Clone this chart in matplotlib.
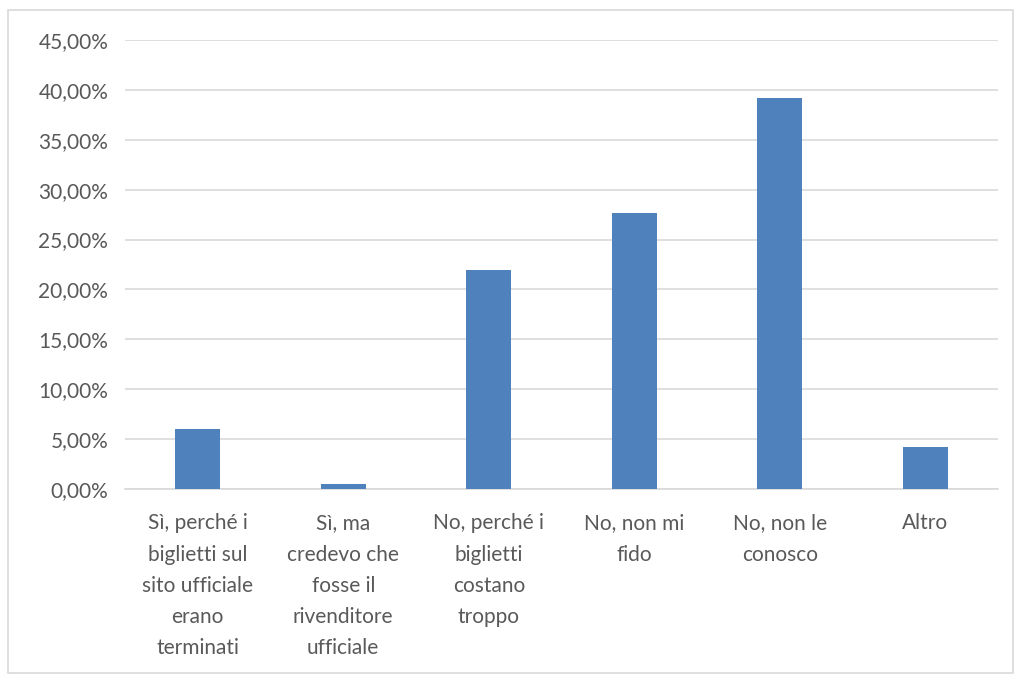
import matplotlib
matplotlib.use("Agg")
import matplotlib.pyplot as plt
from matplotlib.patches import Rectangle
from matplotlib.ticker import FuncFormatter

categories = [
    "Sì, perché i\nbiglietti sul\nsito ufficiale\nerano\nterminati",
    "Sì, ma\ncredevo che\nfosse il\nrivenditore\nufficiale",
    "No, perché i\nbiglietti\ncostano\ntroppo",
    "No, non mi\nfido",
    "No, non le\nconosco",
    "Altro",
]
shares = [6.0, 0.55, 21.9, 27.65, 39.2, 4.25]
y_ticks = [0, 5, 10, 15, 20, 25, 30, 35, 40, 45]

plt.rcParams["font.family"] = ["Lato", "DejaVu Sans"]
text_color = "#595959"
grid_color = "#d9d9d9"
bar_color = "#4f81bd"

fig = plt.figure(figsize=(10.15, 6.74), dpi=100)
ax = fig.add_axes([125 / 1015, 1 - 489 / 674, (998 - 125) / 1015, (489 - 40) / 674])

x = list(range(len(categories)))
ax.bar(x, shares, width=0.31, color=bar_color, zorder=3)

ax.set_xlim(-0.5, len(categories) - 0.5)
ax.set_ylim(0, 45)
ax.set_yticks(y_ticks)
ax.yaxis.set_major_formatter(FuncFormatter(lambda v, _: f"{v:.2f}%".replace(".", ",")))
ax.grid(axis="y", color=grid_color, linewidth=1.2, zorder=0)
ax.set_xticks(x)
ax.set_xticklabels(categories, linespacing=1.7)

for side in ("top", "right", "left"):
    ax.spines[side].set_visible(False)
ax.spines["bottom"].set_color(grid_color)
ax.spines["bottom"].set_linewidth(1.2)
ax.tick_params(axis="both", length=0, labelsize=15, labelcolor=text_color)
ax.tick_params(axis="y", pad=12)
ax.tick_params(axis="x", pad=17.5)

# light frame around the whole chart
fig.patches.append(Rectangle((8 / 1015, 0.002), 1005 / 1015, 1 - 10 / 674 - 0.002,
                             transform=fig.transFigure, fill=False,
                             edgecolor="#d9d9d9", linewidth=1.2))

fig.savefig("out.png", dpi=100, facecolor="white")
